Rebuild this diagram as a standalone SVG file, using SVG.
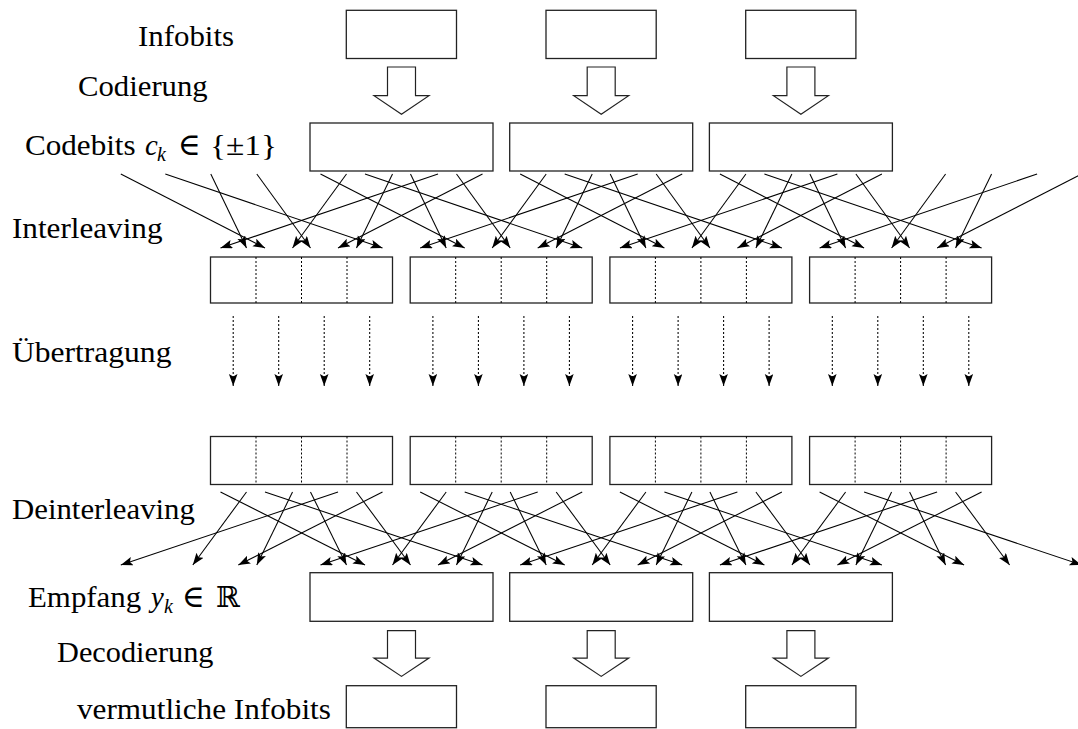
<svg xmlns="http://www.w3.org/2000/svg" width="1078" height="729" viewBox="0 0 1078 729">
  <style>
    .box { fill: #fff; stroke: #222; stroke-width: 1.3; }
    .hollow { fill: #fff; stroke: #222; stroke-width: 1.2; stroke-linejoin: miter; }
    .div { stroke: #000; stroke-width: 1; stroke-dasharray: 2 2; }
    .ln { stroke: #000; stroke-width: 1.05; fill: none; marker-end: url(#ah); }
    .dot { stroke: #000; stroke-width: 1.05; fill: none; stroke-dasharray: 2 2; marker-end: url(#ah); }
    text { font-family: "Liberation Serif", "DejaVu Serif", serif; font-size: 28.8px; fill: #000; }
    .it { font-style: italic; }
    .sub { font-style: italic; font-size: 20px; }
    .rel { font-size: 31px; }
  </style>
  <defs>
    <marker id="ah" markerUnits="userSpaceOnUse" markerWidth="14" markerHeight="10" refX="12" refY="4.3" orient="auto">
      <path d="M0,0 L12,4.3 L0,8.6 L2.4,4.3 z" fill="#000"/>
    </marker>
  </defs>
  <rect width="1078" height="729" fill="#fff"/>

  <!-- row labels -->
  <g id="labels">
    <text x="138" y="46" textLength="96" lengthAdjust="spacingAndGlyphs">Infobits</text>
    <text x="78" y="96" textLength="129.7" lengthAdjust="spacingAndGlyphs">Codierung</text>
    <text x="25" y="155" textLength="110.6" lengthAdjust="spacingAndGlyphs">Codebits</text>
    <text x="145" y="155" class="it">c</text>
    <text x="157" y="161" class="sub">k</text>
    <text x="178" y="155" class="rel">∈</text>
    <text x="210" y="155" textLength="67" lengthAdjust="spacingAndGlyphs">{±1}</text>
    <text x="12" y="238" textLength="150.5" lengthAdjust="spacingAndGlyphs">Interleaving</text>
    <text x="12" y="362" textLength="159.4" lengthAdjust="spacingAndGlyphs">Übertragung</text>
    <text x="12" y="519" textLength="182.9" lengthAdjust="spacingAndGlyphs">Deinterleaving</text>
    <text x="28" y="607" textLength="113.2" lengthAdjust="spacingAndGlyphs">Empfang</text>
    <text x="151" y="607" class="it">y</text>
    <text x="164" y="613" class="sub">k</text>
    <text x="182" y="607" class="rel">∈</text>
    <text x="216" y="607">ℝ</text>
    <text x="57" y="662" textLength="156.5" lengthAdjust="spacingAndGlyphs">Decodierung</text>
    <text x="77" y="719" textLength="253.9" lengthAdjust="spacingAndGlyphs">vermutliche Infobits</text>
  </g>

  <!-- information words -->
  <g id="info-1"><rect class="box" x="346.3" y="10.3" width="110.2" height="48.2"/></g>
  <g id="info-2"><rect class="box" x="546" y="10.3" width="110.2" height="48.2"/></g>
  <g id="info-3"><rect class="box" x="745.7" y="10.3" width="110.2" height="48.2"/></g>

  <!-- encoder arrows -->
  <g id="enc-1"><polygon class="hollow" points="387.5,67 415.5,67 415.5,95.7 429,95.7 401.5,114.3 374,95.7 387.5,95.7"/></g>
  <g id="enc-2"><polygon class="hollow" points="587.2,67 615.2,67 615.2,95.7 628.7,95.7 601.2,114.3 573.7,95.7 587.2,95.7"/></g>
  <g id="enc-3"><polygon class="hollow" points="786.9,67 814.9,67 814.9,95.7 828.4,95.7 800.9,114.3 773.4,95.7 786.9,95.7"/></g>

  <!-- code words -->
  <g id="code-1"><rect class="box" x="310" y="123" width="183" height="48"/></g>
  <g id="code-2"><rect class="box" x="509.7" y="123" width="183" height="48"/></g>
  <g id="code-3"><rect class="box" x="709.4" y="123" width="183" height="48"/></g>

  <!-- interleaved blocks (sender) -->
  <g id="tx-1"><rect class="box" x="210.5" y="257" width="182" height="46"/>
    <line class="div" x1="256" y1="257" x2="256" y2="303"/><line class="div" x1="301.5" y1="257" x2="301.5" y2="303"/><line class="div" x1="347" y1="257" x2="347" y2="303"/></g>
  <g id="tx-2"><rect class="box" x="410.2" y="257" width="182" height="46"/>
    <line class="div" x1="455.7" y1="257" x2="455.7" y2="303"/><line class="div" x1="501.2" y1="257" x2="501.2" y2="303"/><line class="div" x1="546.7" y1="257" x2="546.7" y2="303"/></g>
  <g id="tx-3"><rect class="box" x="609.9" y="257" width="182" height="46"/>
    <line class="div" x1="655.4" y1="257" x2="655.4" y2="303"/><line class="div" x1="700.9" y1="257" x2="700.9" y2="303"/><line class="div" x1="746.4" y1="257" x2="746.4" y2="303"/></g>
  <g id="tx-4"><rect class="box" x="809.6" y="257" width="182" height="46"/>
    <line class="div" x1="855.1" y1="257" x2="855.1" y2="303"/><line class="div" x1="900.6" y1="257" x2="900.6" y2="303"/><line class="div" x1="946.1" y1="257" x2="946.1" y2="303"/></g>

  <!-- interleaved blocks (receiver) -->
  <g id="rx-1"><rect class="box" x="210.5" y="436.5" width="182" height="48"/>
    <line class="div" x1="256" y1="436.5" x2="256" y2="484.5"/><line class="div" x1="301.5" y1="436.5" x2="301.5" y2="484.5"/><line class="div" x1="347" y1="436.5" x2="347" y2="484.5"/></g>
  <g id="rx-2"><rect class="box" x="410.2" y="436.5" width="182" height="48"/>
    <line class="div" x1="455.7" y1="436.5" x2="455.7" y2="484.5"/><line class="div" x1="501.2" y1="436.5" x2="501.2" y2="484.5"/><line class="div" x1="546.7" y1="436.5" x2="546.7" y2="484.5"/></g>
  <g id="rx-3"><rect class="box" x="609.9" y="436.5" width="182" height="48"/>
    <line class="div" x1="655.4" y1="436.5" x2="655.4" y2="484.5"/><line class="div" x1="700.9" y1="436.5" x2="700.9" y2="484.5"/><line class="div" x1="746.4" y1="436.5" x2="746.4" y2="484.5"/></g>
  <g id="rx-4"><rect class="box" x="809.6" y="436.5" width="182" height="48"/>
    <line class="div" x1="855.1" y1="436.5" x2="855.1" y2="484.5"/><line class="div" x1="900.6" y1="436.5" x2="900.6" y2="484.5"/><line class="div" x1="946.1" y1="436.5" x2="946.1" y2="484.5"/></g>

  <!-- received words -->
  <g id="recv-1"><rect class="box" x="310" y="572.7" width="183" height="48.6"/></g>
  <g id="recv-2"><rect class="box" x="509.7" y="572.7" width="183" height="48.6"/></g>
  <g id="recv-3"><rect class="box" x="709.4" y="572.7" width="183" height="48.6"/></g>

  <!-- decoder arrows -->
  <g id="dec-1"><polygon class="hollow" points="387.5,630.6 415.5,630.6 415.5,658.1 429,658.1 401.5,676.4 374,658.1 387.5,658.1"/></g>
  <g id="dec-2"><polygon class="hollow" points="587.2,630.6 615.2,630.6 615.2,658.1 628.7,658.1 601.2,676.4 573.7,658.1 587.2,658.1"/></g>
  <g id="dec-3"><polygon class="hollow" points="786.9,630.6 814.9,630.6 814.9,658.1 828.4,658.1 800.9,676.4 773.4,658.1 786.9,658.1"/></g>

  <!-- estimated information words -->
  <g id="est-1"><rect class="box" x="346.3" y="685.7" width="110.2" height="42"/></g>
  <g id="est-2"><rect class="box" x="546" y="685.7" width="110.2" height="42"/></g>
  <g id="est-3"><rect class="box" x="745.7" y="685.7" width="110.2" height="42"/></g>

  <g id="connectors">
    <!-- interleaver permutation -->
    <g id="interleave">
      <line class="ln" x1="120.8" y1="174" x2="265" y2="248"/>
      <line class="ln" x1="165.3" y1="174" x2="382.5" y2="248"/>
      <line class="ln" x1="210.8" y1="174" x2="246.5" y2="248"/>
      <line class="ln" x1="256.8" y1="174" x2="310.5" y2="248"/>

      <line class="ln" x1="320.5" y1="174" x2="464.7" y2="248"/>
      <line class="ln" x1="346.5" y1="174" x2="292.5" y2="248"/>
      <line class="ln" x1="365" y1="174" x2="582.2" y2="248"/>
      <line class="ln" x1="392.5" y1="174" x2="356.5" y2="248"/>
      <line class="ln" x1="410.5" y1="174" x2="446.2" y2="248"/>
      <line class="ln" x1="438" y1="174" x2="220.5" y2="248"/>
      <line class="ln" x1="456.5" y1="174" x2="510.2" y2="248"/>
      <line class="ln" x1="482.5" y1="174" x2="338" y2="248"/>

      <line class="ln" x1="520.2" y1="174" x2="664.4" y2="248"/>
      <line class="ln" x1="546.2" y1="174" x2="492.2" y2="248"/>
      <line class="ln" x1="564.7" y1="174" x2="781.9" y2="248"/>
      <line class="ln" x1="592.2" y1="174" x2="556.2" y2="248"/>
      <line class="ln" x1="610.2" y1="174" x2="645.9" y2="248"/>
      <line class="ln" x1="637.7" y1="174" x2="420.2" y2="248"/>
      <line class="ln" x1="656.2" y1="174" x2="709.9" y2="248"/>
      <line class="ln" x1="682.2" y1="174" x2="537.7" y2="248"/>

      <line class="ln" x1="719.9" y1="174" x2="864.1" y2="248"/>
      <line class="ln" x1="745.9" y1="174" x2="691.9" y2="248"/>
      <line class="ln" x1="764.4" y1="174" x2="981.6" y2="248"/>
      <line class="ln" x1="791.9" y1="174" x2="755.9" y2="248"/>
      <line class="ln" x1="809.9" y1="174" x2="845.6" y2="248"/>
      <line class="ln" x1="837.4" y1="174" x2="619.9" y2="248"/>
      <line class="ln" x1="855.9" y1="174" x2="909.6" y2="248"/>
      <line class="ln" x1="881.9" y1="174" x2="737.4" y2="248"/>

      <line class="ln" x1="945.6" y1="174" x2="891.6" y2="248"/>
      <line class="ln" x1="991.6" y1="174" x2="955.6" y2="248"/>
      <line class="ln" x1="1037.1" y1="174" x2="819.6" y2="248"/>
      <line class="ln" x1="1081.6" y1="174" x2="937.1" y2="248"/>
    </g>

    <!-- channel -->
    <g id="transmit">
      <line class="dot" x1="233.2" y1="316" x2="233.2" y2="386"/>
      <line class="dot" x1="278.7" y1="316" x2="278.7" y2="386"/>
      <line class="dot" x1="324.2" y1="316" x2="324.2" y2="386"/>
      <line class="dot" x1="369.7" y1="316" x2="369.7" y2="386"/>
      <line class="dot" x1="432.9" y1="316" x2="432.9" y2="386"/>
      <line class="dot" x1="478.4" y1="316" x2="478.4" y2="386"/>
      <line class="dot" x1="523.9" y1="316" x2="523.9" y2="386"/>
      <line class="dot" x1="569.4" y1="316" x2="569.4" y2="386"/>
      <line class="dot" x1="632.6" y1="316" x2="632.6" y2="386"/>
      <line class="dot" x1="678.1" y1="316" x2="678.1" y2="386"/>
      <line class="dot" x1="723.6" y1="316" x2="723.6" y2="386"/>
      <line class="dot" x1="769.1" y1="316" x2="769.1" y2="386"/>
      <line class="dot" x1="832.3" y1="316" x2="832.3" y2="386"/>
      <line class="dot" x1="877.8" y1="316" x2="877.8" y2="386"/>
      <line class="dot" x1="923.3" y1="316" x2="923.3" y2="386"/>
      <line class="dot" x1="968.8" y1="316" x2="968.8" y2="386"/>
    </g>

    <!-- deinterleaver permutation -->
    <g id="deinterleave">
      <line class="ln" x1="220.5" y1="492" x2="365" y2="565"/>
      <line class="ln" x1="246.5" y1="492" x2="192.8" y2="565"/>
      <line class="ln" x1="265" y1="492" x2="482.5" y2="565"/>
      <line class="ln" x1="292.5" y1="492" x2="256.8" y2="565"/>
      <line class="ln" x1="310.5" y1="492" x2="346.5" y2="565"/>
      <line class="ln" x1="338" y1="492" x2="120.8" y2="565"/>
      <line class="ln" x1="356.5" y1="492" x2="410.5" y2="565"/>
      <line class="ln" x1="382.5" y1="492" x2="238.3" y2="565"/>

      <line class="ln" x1="420.2" y1="492" x2="564.7" y2="565"/>
      <line class="ln" x1="446.2" y1="492" x2="392.5" y2="565"/>
      <line class="ln" x1="464.7" y1="492" x2="682.2" y2="565"/>
      <line class="ln" x1="492.2" y1="492" x2="456.5" y2="565"/>
      <line class="ln" x1="510.2" y1="492" x2="546.2" y2="565"/>
      <line class="ln" x1="537.7" y1="492" x2="320.5" y2="565"/>
      <line class="ln" x1="556.2" y1="492" x2="610.2" y2="565"/>
      <line class="ln" x1="582.2" y1="492" x2="438" y2="565"/>

      <line class="ln" x1="619.9" y1="492" x2="764.4" y2="565"/>
      <line class="ln" x1="645.9" y1="492" x2="592.2" y2="565"/>
      <line class="ln" x1="664.4" y1="492" x2="881.9" y2="565"/>
      <line class="ln" x1="691.9" y1="492" x2="656.2" y2="565"/>
      <line class="ln" x1="709.9" y1="492" x2="745.9" y2="565"/>
      <line class="ln" x1="737.4" y1="492" x2="520.2" y2="565"/>
      <line class="ln" x1="755.9" y1="492" x2="809.9" y2="565"/>
      <line class="ln" x1="781.9" y1="492" x2="637.7" y2="565"/>

      <line class="ln" x1="819.6" y1="492" x2="964.1" y2="565"/>
      <line class="ln" x1="845.6" y1="492" x2="791.9" y2="565"/>
      <line class="ln" x1="864.1" y1="492" x2="1081.6" y2="565"/>
      <line class="ln" x1="891.6" y1="492" x2="855.9" y2="565"/>
      <line class="ln" x1="909.6" y1="492" x2="945.6" y2="565"/>
      <line class="ln" x1="937.1" y1="492" x2="719.9" y2="565"/>
      <line class="ln" x1="955.6" y1="492" x2="1009.6" y2="565"/>
      <line class="ln" x1="981.6" y1="492" x2="837.4" y2="565"/>
    </g>
  </g>
</svg>
